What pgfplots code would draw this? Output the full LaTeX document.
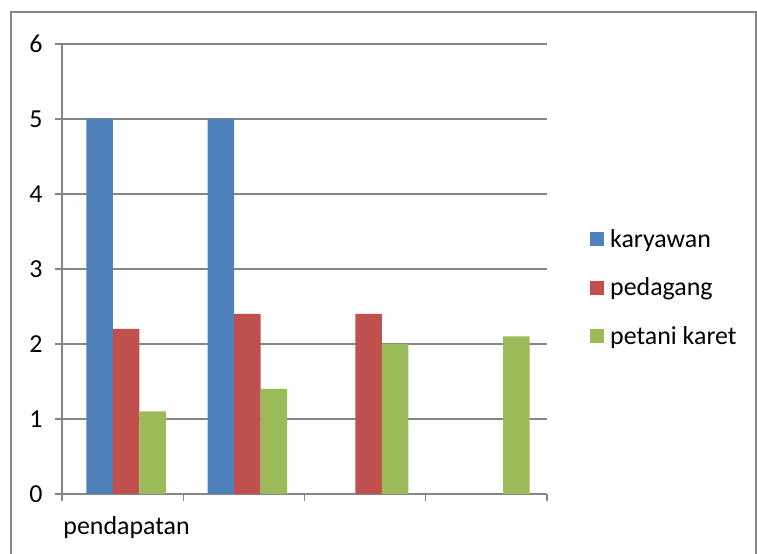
\documentclass[border=0pt]{standalone}
\usepackage{pgfplots}
\pgfplotsset{compat=1.18}
\usepackage{fontspec}
\setmainfont{Carlito}
\definecolor{cblue}{HTML}{4F81BD}
\definecolor{cred}{HTML}{C0504D}
\definecolor{cgreen}{HTML}{9BBB59}
\definecolor{gridc}{HTML}{868686}
\begin{document}
\begin{tikzpicture}[x=1bp,y=1bp]
\useasboundingbox (0,0) rectangle (757,554);
\draw[color=gridc, line width=1.3bp] (11,-10) rectangle (756,542);
\begin{axis}[
  at={(62bp,60bp)}, anchor=south west,
  scale only axis, width=485bp, height=450bp,
  xmin=0, xmax=4, ymin=0, ymax=6,
  axis x line*=bottom, axis y line*=left,
  axis line style={gridc, line width=1.3bp, -},
  xtick={0,1,2,3,4}, xticklabels={},
  ytick={0,1,2,3,4,5,6},
  extra x ticks={0.5}, extra x tick labels={pendapatan},
  extra x tick style={major tick length=0pt, grid=none, tick style={draw=none},
    xticklabel style={yshift=-19bp, xshift=4bp}},
  ymajorgrids, grid style={gridc, line width=1.3bp},
  tick style={gridc, line width=1.3bp},
  tick align=outside, major tick length=7bp,
  /pgf/number format/assume math mode=true,
  ticklabel style={font=\fontsize{26}{30}\selectfont, text=black},
  yticklabel style={xshift=-9bp},
  ybar, bar width=0.218, bar shift=0pt,
  legend style={at={(1.0887,0.593)}, anchor=north west, draw=none, fill=none,
    font=\fontsize{26}{30}\selectfont, inner xsep=0pt, inner ysep=0pt,
    row sep=25bp, column sep=4bp, cells={anchor=west}},
  legend image code/.code={\fill[#1] (0bp,-7bp) rectangle (14bp,7bp);},
]
\addplot[fill=cblue, draw=none] coordinates {(0.31,5) (1.31,5) (2.31,0) (3.31,0)};
\addplot[fill=cred, draw=none] coordinates {(0.529,2.2) (1.529,2.4) (2.529,2.4) (3.529,0)};
\addplot[fill=cgreen, draw=none] coordinates {(0.748,1.1) (1.748,1.4) (2.748,2.0) (3.748,2.1)};
\legend{karyawan, pedagang, petani karet}
\end{axis}
\end{tikzpicture}
\end{document}
